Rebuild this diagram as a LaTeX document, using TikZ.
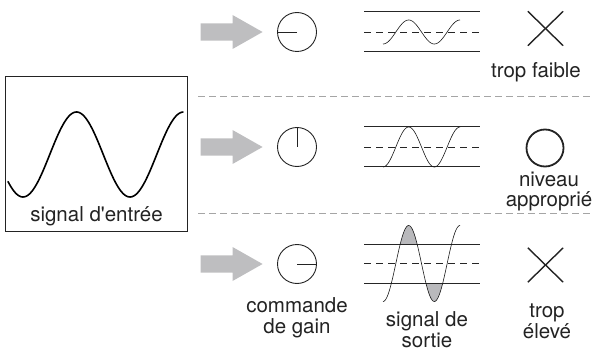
\documentclass[tikz,border=0pt]{standalone}
\usepackage{fontspec}
\setmainfont{TeX Gyre Heros}
\usetikzlibrary{shapes.arrows}
\definecolor{arrowgray}{RGB}{190,190,192}
\definecolor{sepgray}{RGB}{165,165,165}
\definecolor{fillgray}{RGB}{185,185,188}
\definecolor{inkc}{RGB}{35,35,35}
\begin{document}
\begin{tikzpicture}[x=1pt,y=-1pt,
  lbl/.style={font=\fontsize{20.5}{20.5}\selectfont, text=inkc, align=center, anchor=base, inner sep=0pt},
  blockarrow/.style={single arrow, fill=arrowgray, draw=none, inner sep=7pt, minimum height=62pt,
     minimum width=34pt, single arrow tip angle=59, single arrow head indent=0pt, anchor=east},
  dial/.style={circle, draw=inkc, line width=0.9pt, minimum size=39pt, inner sep=0pt},
  hand/.style={draw=inkc, line width=0.9pt},
  sep/.style={draw=sepgray, line width=1pt, dash pattern=on 7pt off 4pt},
  rail/.style={draw=black!85, line width=1pt},
  midline/.style={draw=black!85, line width=0.9pt, dash pattern=on 7pt off 5pt},
  outwave/.style={draw=black!90, line width=0.6pt},
  crossline/.style={draw=inkc, line width=1.4pt}
]
\useasboundingbox (0,0) rectangle (592,350);

% input signal box
\node[draw=inkc, line width=1pt, minimum width=182pt, minimum height=154pt, inner sep=0pt] (inbox) at (96,154) {};
\draw[draw=black, line width=1.6pt, line cap=round] plot[domain=8:183, samples=120, smooth] (\x, {154.5+42.5*cos((\x-23)/107*360)});
\node[lbl] (inlbl) at (96.5,222) {signal d\textquotesingle entrée};

% separators
\coordinate (s1a) at (198,97); \coordinate (s1b) at (592,97);
\coordinate (s2a) at (198,213); \coordinate (s2b) at (592,213);
\draw[sep] (s1a) -- (s1b);
\draw[sep] (s2a) -- (s2b);

% row arrows
\node[blockarrow] (a1) at (263,32) {};
\node[blockarrow] (a2) at (263,147) {};
\node[blockarrow] (a3) at (263,264) {};

% dials
\node[dial] (d1) at (297,32) {};
\node[dial] (d2) at (297,147) {};
\node[dial] (d3) at (297,264) {};
\draw[hand] (d1.center) -- (d1.west);
\draw[hand] (d2.center) -- (d2.north);
\draw[hand] (d3.center) -- (d3.east);
\node[lbl] (gainlbl) at (297,333) {commande\\de gain};

% output plots row 1
\coordinate (t1a) at (364,12); \coordinate (t1b) at (480,12);
\coordinate (m1a) at (364,32); \coordinate (m1b) at (480,32);
\coordinate (b1a) at (364,52); \coordinate (b1b) at (480,52);
\draw[rail] (t1a) -- (t1b);
\draw[midline] (m1a) -- (m1b);
\draw[rail] (b1a) -- (b1b);
\draw[outwave] plot[domain=383:460, samples=80, smooth] (\x, {32+12*cos((\x-383)/51.33*360)});

% row 2
\coordinate (t2a) at (364,127); \coordinate (t2b) at (480,127);
\coordinate (m2a) at (364,147); \coordinate (m2b) at (480,147);
\coordinate (b2a) at (364,167); \coordinate (b2b) at (480,167);
\draw[rail] (t2a) -- (t2b);
\draw[midline] (m2a) -- (m2b);
\draw[rail] (b2a) -- (b2b);
\draw[outwave] plot[domain=383:460, samples=80, smooth] (\x, {147+20*cos((\x-383)/51.33*360)});

% row 3
\begin{scope}
  \clip (350,200) rectangle (490,244);
  \fill[fillgray] plot[domain=383:434.33, samples=80, smooth] (\x, {263.5+38*cos((\x-383)/51.33*360)}) -- cycle;
\end{scope}
\begin{scope}
  \clip (350,283) rectangle (490,320);
  \fill[fillgray] plot[domain=408.67:460, samples=80, smooth] (\x, {263.5+38*cos((\x-383)/51.33*360)}) -- cycle;
\end{scope}
\coordinate (t3a) at (364,244); \coordinate (t3b) at (480,244);
\coordinate (m3a) at (364,263); \coordinate (m3b) at (480,263);
\coordinate (b3a) at (364,283); \coordinate (b3b) at (480,283);
\draw[rail] (t3a) -- (t3b);
\draw[midline] (m3a) -- (m3b);
\draw[rail] (b3a) -- (b3b);
\draw[outwave] plot[domain=383:460, samples=100, smooth] (\x, {263.5+38*cos((\x-383)/51.33*360)});
\node[lbl] (outlbl) at (427,347) {signal de\\sortie};

% verdict marks
\node[inner sep=0pt, minimum width=35pt, minimum height=34pt] (x1) at (545.5,28.5) {};
\draw[crossline] (x1.north west) -- (x1.south east);
\draw[crossline] (x1.south west) -- (x1.north east);
\node[lbl] (v1) at (536,78) {trop faible};

\node[circle, draw=inkc, line width=1.8pt, minimum size=37pt, inner sep=0pt] (ok) at (545,148) {};
\node[lbl] (v2) at (549,207) {niveau\\approprié};

\node[inner sep=0pt, minimum width=35pt, minimum height=34pt] (x3) at (545.5,265) {};
\draw[crossline] (x3.north west) -- (x3.south east);
\draw[crossline] (x3.south west) -- (x3.north east);
\node[lbl] (v3) at (547,338) {trop\\élevé};
\end{tikzpicture}
\end{document}
